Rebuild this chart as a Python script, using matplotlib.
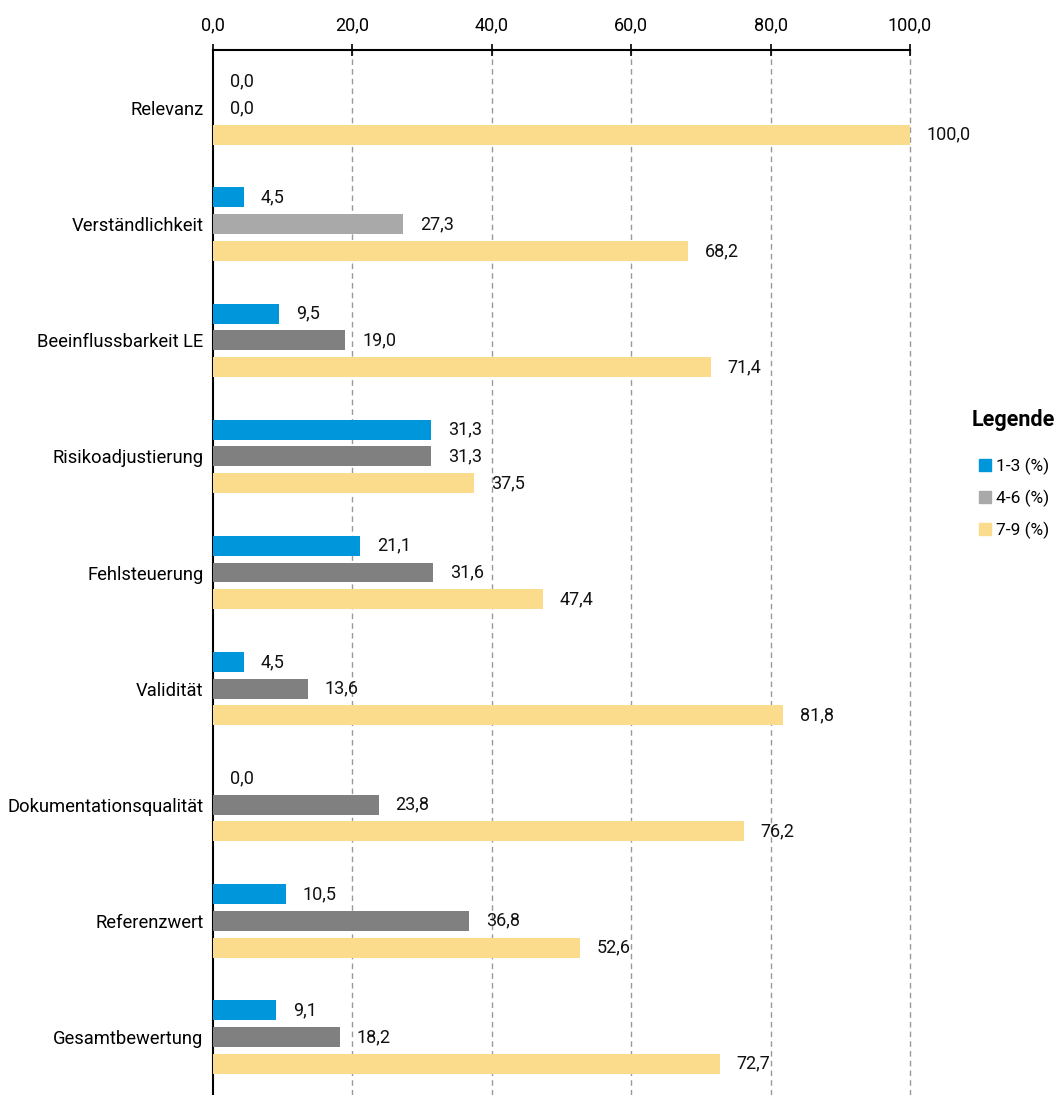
import numpy as np
import matplotlib
matplotlib.use("Agg")
from matplotlib import pyplot as plt
from matplotlib.patches import Patch

plt.rcParams['font.family'] = ['Roboto', 'DejaVu Sans']

categories = ["Relevanz", "Verständlichkeit", "Beeinflussbarkeit LE", "Risikoadjustierung",
              "Fehlsteuerung", "Validität", "Dokumentationsqualität", "Referenzwert",
              "Gesamtbewertung"]
low = [0.0, 4.5, 9.5, 31.3, 21.1, 4.5, 0.0, 10.5, 9.1]
mid = [0.0, 27.3, 19.0, 31.3, 31.6, 13.6, 23.8, 36.8, 18.2]
high = [100.0, 68.2, 71.4, 37.5, 47.4, 81.8, 76.2, 52.6, 72.7]
series_names = ["1-3 (%)", "4-6 (%)", "7-9 (%)"]
ticks = [0, 20, 40, 60, 80, 100]

blue = "#0096DC"
gray = "#808080"
light_gray = "#A9A9A9"
yellow = "#FADC8C"
# Verständlichkeit has its mid bar in the lighter gray
mid_colors = [gray] * len(categories)
mid_colors[1] = light_gray


def fmt(v):
    return ("%.1f" % v).replace(".", ",")


def main():
    fig = plt.figure(figsize=(10.62, 10.95), dpi=100)
    ax = fig.add_axes([213 / 1062, 0.0, (910 - 213) / 1062, 1 - 50 / 1095])

    y = np.arange(len(categories))
    off = 0.23
    h = 0.172
    groups = [(low, [blue] * len(categories), -off),
              (mid, mid_colors, 0.0),
              (high, [yellow] * len(categories), off)]
    for vals, cols, d in groups:
        bars = ax.barh(y + d, vals, height=h, color=cols, zorder=3)
        for b, v in zip(bars, vals):
            ax.annotate(fmt(v), (v, b.get_y() + b.get_height() / 2), xytext=(12, 0),
                        textcoords="offset points", va="center", ha="left",
                        fontsize=13, color="#111111")

    ax.set_xlim(0, 100)
    ax.set_ylim(len(categories) - 0.5, -0.5)
    ax.set_yticks(y)
    ax.set_yticklabels(categories, fontsize=13.2)
    ax.tick_params(axis="y", length=0, pad=7)
    ax.xaxis.tick_top()
    ax.set_xticks(ticks)
    ax.set_xticklabels([fmt(t) for t in ticks], fontsize=13)
    ax.tick_params(axis="x", direction="inout", length=9, width=1.2, pad=7)

    for t in ticks[1:]:
        ax.axvline(t, color="#999999", linestyle=(0, (4, 3)), linewidth=1,
                   zorder=1, clip_on=False)

    for s in ["right", "bottom"]:
        ax.spines[s].set_visible(False)
    ax.spines["top"].set_linewidth(1.5)
    ax.spines["top"].set_zorder(4)
    ax.spines["left"].set_linewidth(1.5)

    # legend: bold heading plus three colour keys underneath
    fig.text(972 / 1062, 1 - 420 / 1095, "Legende", fontsize=15.5, fontweight="bold",
             ha="left", va="center")
    handles = [Patch(color=blue), Patch(color=light_gray), Patch(color=yellow)]
    fig.legend(handles, series_names, loc="upper left", bbox_to_anchor=(0.910, 0.5935),
               frameon=False, fontsize=12.5,
               handlelength=0.7, handleheight=0.7, handletextpad=0.3,
               labelspacing=0.85, borderpad=0.2)

    fig.savefig("out.png", dpi=100)


if __name__ == '__main__':
    main()
